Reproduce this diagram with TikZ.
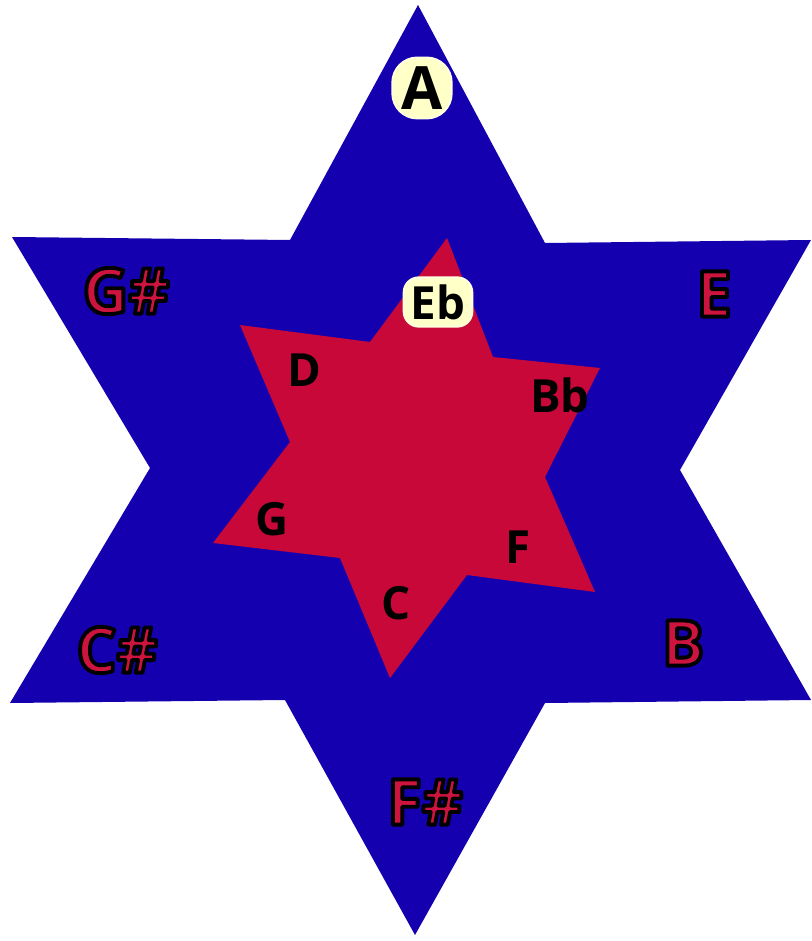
\documentclass[tikz,border=0pt]{standalone}
\usepackage{fontspec}
\setsansfont{Open Sans}
\usepackage{xcolor}
\definecolor{starblue}{RGB}{21,0,176}
\definecolor{starred}{RGB}{200,8,56}
\definecolor{notered}{RGB}{205,20,62}
\definecolor{glow}{RGB}{255,255,200}

\tikzset{
  outernote/.style={inner sep=0pt, font=\sffamily\bfseries\fontsize{18}{18}\selectfont},
  innernote/.style={inner sep=0pt, font=\sffamily\bfseries\fontsize{13}{13}\selectfont},
  glownote/.style={fill=glow, rounded corners=2.5mm, inner sep=1.2mm, draw=glow!60!white, line width=0.6pt}
}
\newcommand{\rednote}[1]{\textcolor{notered}{\special{pdf:code 2 Tr 1.1 w 1 j 0 0 0 RG}#1\special{pdf:code 0 Tr}}}

\begin{document}
\begin{tikzpicture}[x=0.1mm, y=-0.1mm]
    \useasboundingbox (0,0) rectangle (811,941);
    % outer star
    \fill[starblue] (418,5) -- (545,243) -- (811,240) -- (680,470) -- (811,700) -- (545,703)
        -- (415,935) -- (285,700) -- (10,703) -- (150,468) -- (12,237) -- (290,240) -- cycle;
    % inner star
    \fill[starred] (447,238) -- (493,357) -- (600,368) -- (545,477) -- (595,592) -- (467,575)
        -- (390,678) -- (340,558) -- (213,543) -- (290,442) -- (240,325) -- (370,342) -- cycle;

    \node[outernote, glownote, inner sep=0.9mm, font=\sffamily\bfseries\fontsize{17}{17}\selectfont] (A) at (422,88) {A};
    \node[outernote] (Gs) at (126,291) {\rednote{G\#}};
    \node[outernote] (E) at (714,294) {\rednote{E}};
    \node[outernote] (Cs) at (117,650) {\rednote{C\#}};
    \node[outernote] (B) at (683,643) {\rednote{B}};
    \node[outernote] (Fs) at (425,802) {\rednote{F\#}};

    \node[innernote, glownote, inner sep=0.7mm, rounded corners=1.5mm] (Eb) at (438,302) {Eb};
    \node[innernote] (D) at (304,370) {D};
    \node[innernote] (Bb) at (560,395) {Bb};
    \node[innernote] (G) at (272,519) {G};
    \node[innernote] (F) at (518,547) {F};
    \node[innernote] (C) at (396,603) {C};
\end{tikzpicture}
\end{document}
